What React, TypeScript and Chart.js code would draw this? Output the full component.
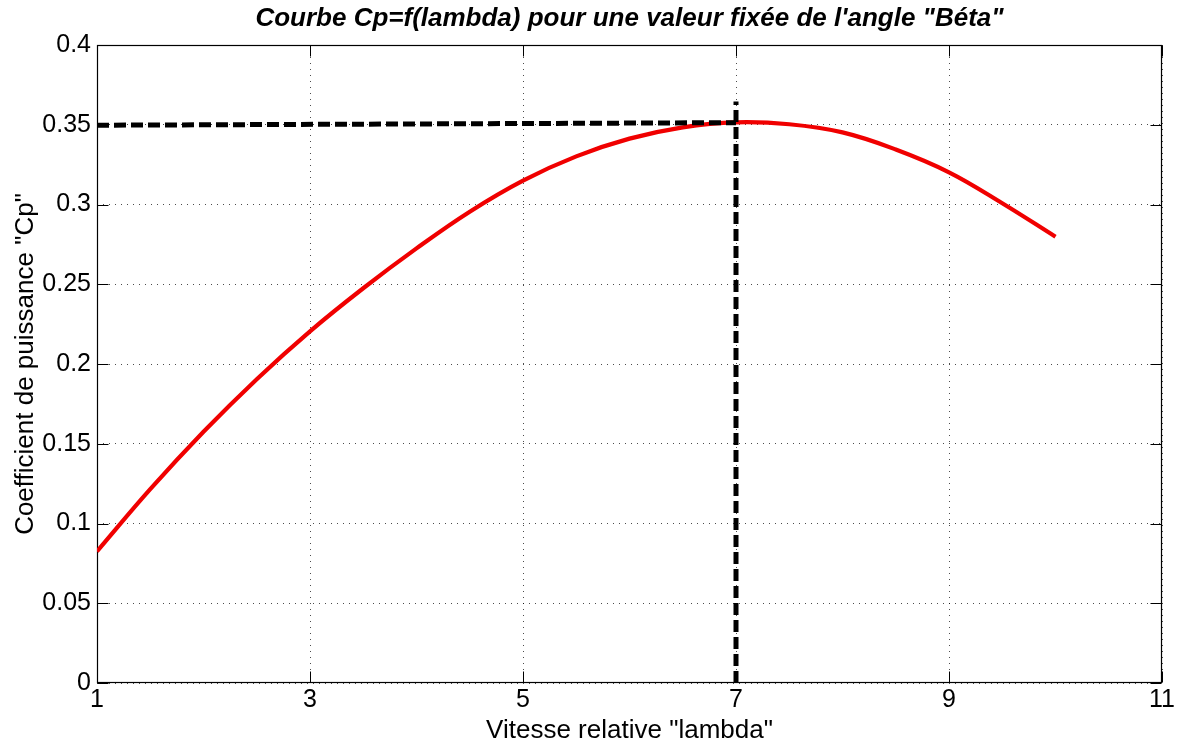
import React, { useEffect, useRef } from 'react';
import { Chart, registerables } from 'chart.js';

Chart.register(...registerables);

const chartTitle = 'Courbe Cp=f(lambda) pour une valeur fixée de l\'angle "Béta"';
const xAxisTitle = 'Vitesse relative "lambda"';
const yAxisTitle = 'Coefficient de puissance "Cp"';

const lambdaValues = [1, 1.5, 2, 2.5, 3, 3.5, 4, 4.5, 5, 5.5, 6, 6.5, 7, 7.5, 8, 8.5, 9, 9.5, 10];
const cpValues = [0.0825, 0.1215, 0.1575, 0.1905, 0.2205, 0.2475, 0.2725, 0.2955, 0.315, 0.3302, 0.3413, 0.3484, 0.3515, 0.3503, 0.3452, 0.3345, 0.3202, 0.3008, 0.2798];

const hLineX = [1, 7];
const hLineY = [0.3497, 0.3513];
const vLineX = [7, 7];
const vLineY = [0, 0.3645];

const xTicks = [1, 3, 5, 7, 9, 11];
const xTickLabels = ['1', '3', '5', '7', '9', '11'];
const yTicks = [0, 0.05, 0.1, 0.15, 0.2, 0.25, 0.3, 0.35, 0.4];
const yTickLabels = ['0', '0.05', '0.1', '0.15', '0.2', '0.25', '0.3', '0.35', '0.4'];

const FONT = '"Liberation Sans", Arial, Helvetica, sans-serif';

const framePlugin = {
  id: 'matlabFrame',
  beforeDatasetsDraw(chart: any) {
    const { ctx, chartArea, scales } = chart;
    const L = Math.round(chartArea.left) + 0.5;
    const R = Math.round(chartArea.right) - 0.5;
    const T = Math.round(chartArea.top) + 0.5;
    const B = Math.round(chartArea.bottom) - 0.5;
    const tl = 11;
    ctx.save();
    ctx.strokeStyle = '#000';
    ctx.lineWidth = 1;
    ctx.setLineDash([]);
    ctx.beginPath();
    for (const v of xTicks) {
      const px = Math.round(scales.x.getPixelForValue(v)) + 0.5;
      ctx.moveTo(px, B);
      ctx.lineTo(px, B - tl);
      ctx.moveTo(px, T);
      ctx.lineTo(px, T + tl);
    }
    for (const v of yTicks) {
      const py = Math.round(scales.y.getPixelForValue(v)) + 0.5;
      ctx.moveTo(L, py);
      ctx.lineTo(L + tl, py);
      ctx.moveTo(R, py);
      ctx.lineTo(R - tl, py);
    }
    ctx.stroke();
    ctx.lineWidth = 1.2;
    ctx.strokeRect(L, T, R - L, B - T);
    ctx.restore();
  },
};

export default function App() {
  const canvasRef = useRef<HTMLCanvasElement | null>(null);

  useEffect(() => {
    if (!canvasRef.current) return;
    const chart = new Chart(canvasRef.current, {
      type: 'line',
      data: {
        datasets: [
          {
            label: 'h',
            data: hLineX.map((x, i) => ({ x, y: hLineY[i] })),
            borderColor: '#000',
            borderWidth: 5,
            borderDash: [12, 5],
            pointRadius: 0,
            fill: false,
            order: 1,
          },
          {
            label: 'v',
            data: vLineX.map((x, i) => ({ x, y: vLineY[i] })),
            borderColor: '#000',
            borderWidth: 5,
            borderDash: [12, 5],
            pointRadius: 0,
            fill: false,
            order: 1,
          },
          {
            label: 'Cp',
            data: lambdaValues.map((x, i) => ({ x, y: cpValues[i] })),
            borderColor: 'rgb(240,0,0)',
            borderWidth: 4.2,
            pointRadius: 0,
            fill: false,
            tension: 0.4,
            order: 2,
          },
        ],
      },
      options: {
        animation: false,
        responsive: true,
        maintainAspectRatio: false,
        layout: { padding: { left: 0, right: 18, top: 0, bottom: 0 } },
        plugins: {
          legend: { display: false },
          tooltip: { enabled: false },
          title: {
            display: true,
            text: chartTitle,
            fullSize: false,
            color: '#000',
            font: { family: FONT, size: 26, weight: 'bold', style: 'italic', lineHeight: 1.2 },
            padding: { top: 3, bottom: 10.8 },
          },
        },
        scales: {
          x: {
            type: 'linear',
            min: 1,
            max: 11,
            afterBuildTicks: (s: any) => {
              s.ticks = xTicks.map((v) => ({ value: v }));
            },
            afterFit: (s: any) => {
              s.height = 61;
            },
            ticks: {
              autoSkip: false,
              maxRotation: 0,
              padding: 4.5,
              color: '#000',
              font: { family: FONT, size: 25, lineHeight: 1 },
              callback: (v: any) => {
                const i = xTicks.indexOf(Number(v));
                return i >= 0 ? xTickLabels[i] : '';
              },
            },
            grid: { color: 'rgba(0,0,0,0.7)', lineWidth: 1, drawTicks: false },
            border: { display: false, dash: [1, 5] },
            title: {
              display: true,
              text: xAxisTitle,
              color: '#000',
              font: { family: FONT, size: 26, lineHeight: 1 },
              padding: { top: 0, bottom: 0 },
            },
          },
          y: {
            type: 'linear',
            min: 0,
            max: 0.4,
            afterBuildTicks: (s: any) => {
              s.ticks = yTicks.map((v) => ({ value: v }));
            },
            afterFit: (s: any) => {
              s.width = 97;
            },
            ticks: {
              autoSkip: false,
              padding: 6,
              color: '#000',
              font: { family: FONT, size: 25, lineHeight: 1 },
              callback: (v: any) => {
                const i = yTicks.findIndex((t) => Math.abs(t - Number(v)) < 1e-9);
                return i >= 0 ? yTickLabels[i] : '';
              },
            },
            grid: { color: 'rgba(0,0,0,0.7)', lineWidth: 1, drawTicks: false },
            border: { display: false, dash: [1, 5] },
            title: {
              display: true,
              text: yAxisTitle,
              color: '#000',
              font: { family: FONT, size: 26, lineHeight: 1 },
              padding: { top: 13, bottom: 0 },
            },
          },
        },
      },
      plugins: [framePlugin],
    });
    return () => chart.destroy();
  }, []);

  return (
    <div style={{ position: 'absolute', left: 0, top: 0, width: 1180, height: 744, background: '#fff' }}>
      <canvas ref={canvasRef} />
    </div>
  );
}
